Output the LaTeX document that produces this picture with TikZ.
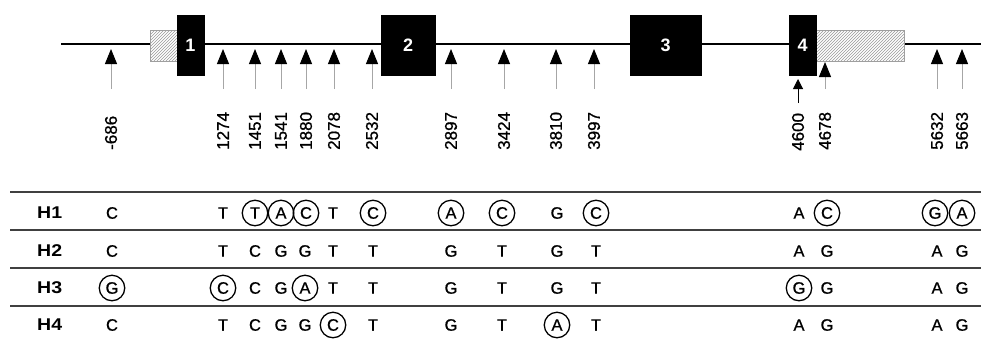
\documentclass[tikz,border=0pt]{standalone}
\usepackage{fontspec}
\setmainfont{Liberation Sans}
\newfontfamily\widefont[FakeStretch=1.15]{Liberation Sans}
\newfontfamily\letfont[FakeBold=0.8]{Liberation Sans}
\usetikzlibrary{patterns,arrows.meta}
\tikzset{
  exon/.style={fill=black,draw=black},
  utr/.style={draw=gray!75,line width=0.8pt,preaction={fill=white},pattern=north east lines,pattern color=gray!80},
  exonnum/.style={text=white,font=\fontsize{18}{18}\bfseries\selectfont,inner sep=0pt},
  snp/.style={draw=gray!70,line width=1pt,-{Triangle[length=15pt,width=12pt,color=black]}},
  snpshort/.style={draw=black,line width=1pt,-{Triangle[length=10pt,width=10pt,color=black]}},
  numlab/.style={rotate=90,anchor=west,inner sep=0pt,font=\letfont\fontsize{17}{17}\selectfont},
  rowline/.style={draw=black!75,line width=1.4pt},
  hlab/.style={anchor=west,inner sep=0pt,font=\widefont\fontsize{17}{17}\bfseries\selectfont},
  base/.style={inner sep=0pt,font=\letfont\fontsize{16.5}{16.5}\selectfont},
  circ/.style={base,circle,draw=black,line width=1.3pt,minimum size=25.5pt},
}
\begin{document}
\begin{tikzpicture}[x=1pt,y=-1pt]
\useasboundingbox (0,0) rectangle (981,338);
% gene line
\coordinate (gl) at (61,44);
\coordinate (gr) at (981,44);
\draw[line width=2pt] (gl) -- (gr);
% UTRs
\draw[utr] (150,30) rectangle (177,61);
\draw[utr] (816,30) rectangle (904,61);
% exons
\node[exon,minimum width=27pt,minimum height=60pt,inner sep=0pt] (ex1) at (190.5,45) {};
\node[exon,minimum width=54pt,minimum height=60pt,inner sep=0pt] (ex2) at (408,45) {};
\node[exon,minimum width=71pt,minimum height=60pt,inner sep=0pt] (ex3) at (665.5,45) {};
\node[exon,minimum width=27pt,minimum height=60pt,inner sep=0pt] (ex4) at (802.5,45) {};
\node[exonnum] at (ex1) {1};
\node[exonnum] at (ex2) {2};
\node[exonnum] at (ex3) {3};
\node[exonnum] at (ex4) {4};
% SNP arrows and labels
\foreach \x/\lab/\n in {111/-686/a,223/1274/b,255/1451/c,281/1541/d,306/1880/e,334/2078/f,372/2532/g,451/2897/h,504/3424/i,556/3810/j,594/3997/k,937/5632/m,962/5663/n}{
  \coordinate (s\n) at (\x,89);
  \coordinate (e\n) at (\x,49);
  \draw[snp] (s\n) -- (e\n);
  \node[numlab] (l\n) at (\x,150) {\lab};
}
\coordinate (s4600) at (798,103);
\coordinate (e4600) at (798,79);
\draw[snpshort] (s4600) -- (e4600);
\node[numlab] (l4600) at (798,151) {4600};
\coordinate (s4678) at (825,89);
\coordinate (e4678) at (825,62);
\draw[snp] (s4678) -- (e4678);
\node[numlab] (l4678) at (825,150) {4678};
% table lines
\foreach \y/\n in {192/1,230/2,268/3,306/4}{
  \coordinate (tl\n) at (10,\y);
  \coordinate (tr\n) at (981,\y);
  \draw[rowline] (tl\n) -- (tr\n);
}
% row labels
\node[hlab] (h1) at (37,213) {H1};
\node[hlab] (h2) at (37,251) {H2};
\node[hlab] (h3) at (37,288) {H3};
\node[hlab] (h4) at (37,325) {H4};
% H1
\foreach \x/\l in {112/C,223/T,333/T,557/G,799/A}{\node[base] (ra\x) at (\x,213) {\l};}
\foreach \x/\l in {255/T,281/A,306/C,373/C,451/A,502/C,596/C,827/C,935/G,962/A}{\node[circ] (ra\x) at (\x,213) {\l};}
% H2
\foreach \x/\l in {112/C,223/T,255/C,281/G,305/G,333/T,373/T,451/G,502/T,557/G,596/T,799/A,827/G,937/A,962/G}{\node[base] (rb\x) at (\x,251) {\l};}
% H3
\foreach \x/\l in {112/G,223/C,305/A,799/G}{\node[circ] (rc\x) at (\x,288) {\l};}
\foreach \x/\l in {255/C,281/G,333/T,373/T,451/G,502/T,557/G,596/T,827/G,937/A,962/G}{\node[base] (rc\x) at (\x,288) {\l};}
% H4
\foreach \x/\l in {333/C,557/A}{\node[circ] (rd\x) at (\x,325) {\l};}
\foreach \x/\l in {112/C,223/T,255/C,281/G,305/G,373/T,451/G,502/T,596/T,799/A,827/G,937/A,962/G}{\node[base] (rd\x) at (\x,325) {\l};}
\end{tikzpicture}
\end{document}
